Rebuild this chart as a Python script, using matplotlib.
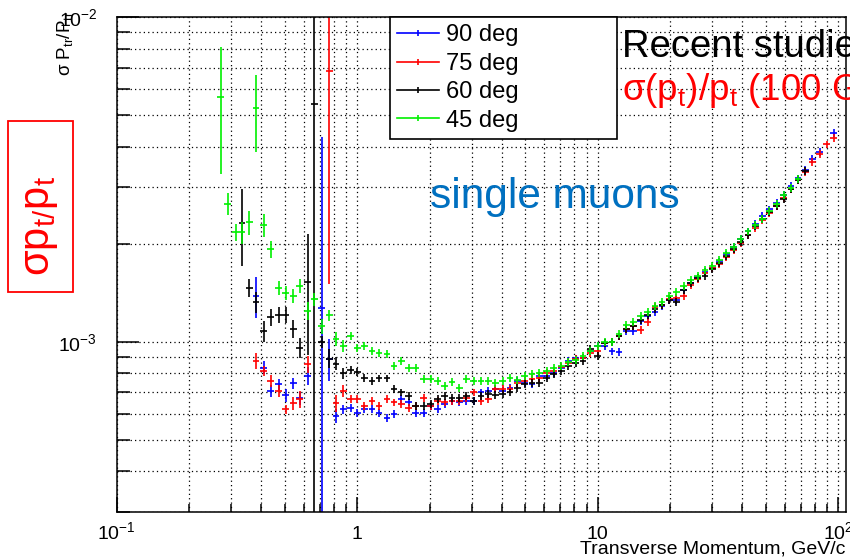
import numpy as np
import matplotlib
matplotlib.use("Agg")
import matplotlib.pyplot as plt
from matplotlib.lines import Line2D
from matplotlib.patches import Rectangle
from matplotlib.ticker import LogLocator, NullFormatter

plt.rcParams['font.family'] = ['Liberation Sans', 'DejaVu Sans']
plt.rcParams['mathtext.fontset'] = 'custom'
plt.rcParams['mathtext.rm'] = 'Liberation Sans'
plt.rcParams['mathtext.it'] = 'Liberation Sans:italic'
plt.rcParams['mathtext.bf'] = 'Liberation Sans:bold'

nan = np.nan

# bin centres, GeV/c
pt = [0.271, 0.290, 0.312, 0.332, 0.356, 0.380, 0.408, 0.437, 0.471, 0.504,
      0.542, 0.578, 0.622, 0.663, 0.713, 0.765, 0.816, 0.875, 0.940, 1.003,
      1.072, 1.154, 1.234, 1.332, 1.425, 1.524, 1.637, 1.754, 1.890, 2.025,
      2.161, 2.311, 2.483, 2.656, 2.840, 3.051, 3.272, 3.509, 3.763, 4.036,
      4.327, 4.640, 4.977, 5.337, 5.723, 6.138, 6.582, 7.059, 7.568, 8.118,
      8.706, 9.335, 10.01, 10.72, 11.48, 12.29, 13.17, 14.10, 15.10, 16.18,
      17.32, 18.55, 19.87, 21.28, 22.79, 24.41, 26.14, 27.99, 29.98, 32.11,
      34.38, 36.82, 39.44, 42.24, 45.23, 48.44, 51.88, 55.56, 59.50, 63.72,
      68.24, 73.09, 78.27, 83.82, 89.78, 96.16]

# sigma(pt)/pt in units of 1e-3
res_90 = [nan, nan, nan, nan, nan, 1.385, 0.834, 0.707, 0.741, 0.685,
          0.746, 0.670, 0.786, nan, 1.276, 0.889, 0.592, 0.621, 0.628, 0.606,
          0.621, 0.621, 0.606, 0.585, 0.599, 0.666, 0.651, 0.606, 0.606, 0.635,
          0.621, 0.643, 0.659, 0.651, 0.659, 0.659, 0.699, 0.707, 0.716, 0.707,
          0.720, 0.759, 0.750, 0.741, 0.786, 0.786, 0.800, 0.830, 0.874, 0.890,
          0.895, 0.938, 0.972, 0.972, 0.935, 0.930, 1.08, 1.08, 1.16, 1.20,
          1.24, 1.29, 1.35, 1.35, 1.45, 1.52, 1.58, 1.64, 1.69, 1.77,
          1.86, 1.96, 2.07, 2.19, 2.31, 2.44, 2.56, 2.68, 2.84, 3.02,
          3.19, 3.38, 3.66, 3.86, nan, 4.41]
res_75 = [nan, nan, nan, nan, nan, 0.874, 0.814, 0.759, 0.707, 0.621,
          0.648, 0.666, 0.854, nan, nan, 6.81, 0.648, 0.707, 0.666, 0.666,
          0.635, 0.659, 0.635, 0.666, 0.651, 0.643, 0.628, 0.635, 0.674, 0.635,
          0.659, 0.651, 0.659, 0.659, 0.674, 0.699, 0.659, 0.666, 0.716, 0.716,
          0.716, 0.750, 0.760, 0.768, 0.777, 0.805, 0.814, 0.840, 0.864, 0.885,
          0.895, 0.928, 0.938, 0.99, 1.00, 1.04, 1.10, 1.12, 1.09, 1.15,
          1.28, 1.30, 1.36, 1.37, 1.39, 1.50, 1.56, 1.63, 1.69, 1.74,
          1.83, 1.92, 2.02, 2.13, 2.25, 2.38, 2.50, 2.62, 2.78, 2.95,
          3.15, 3.33, 3.58, 3.80, 4.06, 4.26]
res_60 = [nan, nan, nan, 2.33, 1.47, 1.33, 1.081, 1.19, 1.21, 1.21,
          1.10, 0.961, 1.53, 5.39, 1.00, 0.889, 0.858, 0.801, 0.820, 0.809,
          0.777, 0.759, 0.772, 0.772, 0.715, 0.699, 0.682, 0.635, 0.635, 0.643,
          0.666, 0.682, 0.674, 0.674, 0.682, 0.659, 0.682, 0.691, 0.685, 0.690,
          0.699, 0.720, 0.741, 0.750, 0.750, 0.777, 0.796, 0.814, 0.845, 0.864,
          0.874, 0.950, 0.906, 0.99, 1.00, 1.04, 1.10, 1.12, 1.17, 1.21,
          1.26, 1.30, 1.35, 1.33, 1.45, 1.52, 1.57, 1.60, 1.68, 1.75,
          1.84, 1.93, 2.03, 2.14, 2.27, 2.40, 2.52, 2.63, 2.75, 2.96,
          3.15, 3.36, nan, nan, nan, nan]
res_45 = [5.69, 2.67, 2.18, 2.18, 2.34, 5.25, 2.29, 1.93, 1.47, 1.42,
          1.385, 1.49, 1.245, 1.353, 1.12, 1.208, 1.024, 0.972, 1.043, 0.961,
          0.972, 0.938, 0.928, 0.917, 0.844, 0.874, 0.834, 0.834, 0.768, 0.768,
          0.759, 0.732, 0.753, 0.724, 0.768, 0.759, 0.759, 0.759, 0.750, 0.759,
          0.777, 0.765, 0.786, 0.795, 0.805, 0.812, 0.830, 0.844, 0.870, 0.880,
          0.905, 0.938, 0.970, 1.00, 1.00, 1.06, 1.13, 1.15, 1.20, 1.24,
          1.29, 1.33, 1.39, 1.43, 1.49, 1.55, 1.60, 1.67, 1.72, 1.79,
          1.88, 1.96, 2.07, 2.19, 2.30, 2.40, 2.54, 2.66, 2.83, 2.99,
          3.17, nan, nan, nan, nan, nan]

# errors of the low-pt bins (1e-3); the rest use rel_err
err_90 = [nan, nan, nan, nan, nan, 0.20, 0.04, 0.03, 0.03, 0.03,
          0.03, 0.03, 0.05, nan, 3.0, 0.13, 0.03, 0.02]
err_75 = [nan, nan, nan, nan, nan, 0.05, 0.03, 0.03, 0.03, 0.02,
          0.03, 0.04, 0.05, nan, nan, 5.3, 0.04, 0.03]
err_60 = [nan, nan, nan, 0.62, 0.09, 0.10, 0.08, 0.07, 0.07, 0.07,
          0.07, 0.07, 0.62, 6.0, 0.04, 0.06, 0.04, 0.03]
err_45 = [2.4, 0.21, 0.13, 0.17, 0.20, 1.39, 0.18, 0.12, 0.07, 0.07,
          0.07, 0.07, 0.08, 0.06, 0.06, 0.05, 0.05, 0.04]
rel_err = 0.028

labels = ["90 deg", "75 deg", "60 deg", "45 deg"]
colors = ["#0000ff", "#ff0000", "#000000", "#00f000"]

fig = plt.figure(figsize=(8.5, 5.57), dpi=100)
ax = fig.add_axes([0.1373, 0.0813, 0.858, 0.8876])

x = np.array(pt)
xlo = x - x / 1.033
xhi = x * 1.033 - x

for vals, errs, color in zip([res_90, res_75, res_60, res_45],
                             [err_90, err_75, err_60, err_45], colors):
    y = np.array(vals)
    e = np.full(len(y), nan)
    e[:len(errs)] = errs
    e = np.where(np.isnan(e), rel_err * y, e)
    lower = np.minimum(e, y * 0.999)
    ax.errorbar(x, y * 1e-3, xerr=[xlo, xhi], yerr=[lower * 1e-3, e * 1e-3],
                fmt='none', ecolor=color, elinewidth=1.2, capsize=0)

ax.set_xscale('log')
ax.set_yscale('log')
ax.set_xlim(0.1, 108)
ax.set_ylim(3e-4, 1e-2)
ax.set_xticks([0.1, 1, 10, 100], labels=[r'$10^{-1}$', '1', '10', r'$10^{2}$'])
ax.set_yticks([1e-3, 1e-2], labels=[r'$10^{-3}$', r'$10^{-2}$'])
ax.xaxis.set_minor_locator(LogLocator(base=10, subs=np.arange(2, 10)))
ax.yaxis.set_minor_locator(LogLocator(base=10, subs=np.arange(2, 10)))
ax.xaxis.set_minor_formatter(NullFormatter())
ax.yaxis.set_minor_formatter(NullFormatter())

ax.set_axisbelow(True)
ax.grid(True, which='both', color='black', linestyle=(0, (1, 2.5)), linewidth=0.9)
ax.tick_params(which='both', direction='in', top=False, right=False, width=1.1)
ax.tick_params(axis='y', which='major', length=16, pad=14, labelsize=14)
ax.tick_params(axis='y', which='minor', length=9.5)
ax.tick_params(axis='x', which='major', length=11, pad=20, labelsize=14)
ax.tick_params(axis='x', which='minor', length=6)
plt.setp(ax.get_xticklabels(), va='baseline')
for s in ax.spines.values():
    s.set_linewidth(1.1)

handles = [Line2D([], [], color=c, lw=1.2, marker='|', markersize=5, markeredgewidth=1.2)
           for c in colors]
leg = ax.legend(handles, labels, loc='upper left',
                bbox_to_anchor=(0.3747, 0.752, 0.311, 0.248), mode='expand',
                fontsize=17, handlelength=1.78, handletextpad=0.3, borderpad=0.3,
                labelspacing=0.27, fancybox=False, framealpha=1, borderaxespad=0)
leg.get_frame().set_edgecolor('black')
leg.get_frame().set_linewidth(1.2)

# axis titles
fig.text(0.076, 0.982, r'σ P$_{\mathrm{tr}}$/P$_{\mathrm{tr}}$', rotation=90,
         ha='center', va='top', fontsize=13.5)
fig.text(0.994, 0.007, 'Transverse Momentum, GeV/c', ha='right', va='baseline', fontsize=14)

# slide annotations
fig.add_artist(Rectangle((0.0094, 0.4758), 0.0765, 0.307, transform=fig.transFigure,
                         fill=False, edgecolor='red', linewidth=1.3))
fig.text(0.0476, 0.595, r'σp$_{\mathrm{t/}}$p$_{\mathrm{t}}$', rotation=90, color='red',
         fontsize=30, ha='center', va='center')
fig.text(0.506, 0.6266, 'single muons', color='#0070C0', fontsize=30.5, va='baseline')
fig.text(0.732, 0.898, 'Recent studies', fontsize=27.5, va='baseline')
fig.text(0.732, 0.820, r'σ(p$_{\mathrm{t}}$)/p$_{\mathrm{t}}$ (100 GeV)', color='red',
         fontsize=26.5, va='baseline')

fig.savefig('out.png', dpi=100)
